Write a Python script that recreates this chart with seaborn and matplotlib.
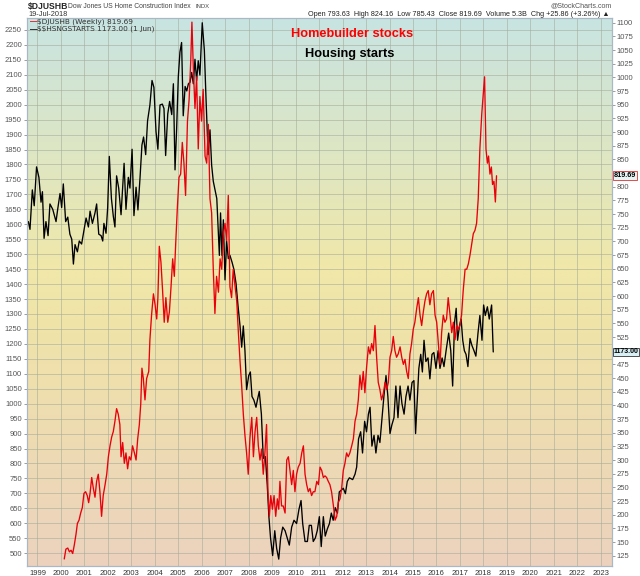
import numpy as np
import pandas as pd
import seaborn as sns
import matplotlib.pyplot as plt

# Housing starts ($$HSNGSTARTS), left axis
starts_year = [1998.61, 1998.68, 1998.78, 1998.86, 1998.96, 1999.06, 1999.15, 1999.21, 1999.28, 1999.36,
               1999.45, 1999.53, 1999.65, 1999.79, 1999.86, 1999.96, 2000.03, 2000.10, 2000.20, 2000.29,
               2000.38, 2000.46, 2000.53, 2000.60, 2000.70, 2000.78, 2000.88, 2000.98, 2001.07, 2001.17,
               2001.24, 2001.34, 2001.45, 2001.52, 2001.61, 2001.71, 2001.78, 2001.83, 2001.92, 2001.99,
               2002.06, 2002.15, 2002.23, 2002.30, 2002.37, 2002.46, 2002.56, 2002.69, 2002.77, 2002.87,
               2002.94, 2003.03, 2003.11, 2003.20, 2003.28, 2003.37, 2003.45, 2003.52, 2003.61, 2003.69,
               2003.79, 2003.88, 2003.96, 2004.05, 2004.13, 2004.22, 2004.32, 2004.39, 2004.46, 2004.55,
               2004.63, 2004.72, 2004.79, 2004.86, 2004.93, 2005.00, 2005.07, 2005.14, 2005.21, 2005.29,
               2005.36, 2005.43, 2005.50, 2005.57, 2005.64, 2005.71, 2005.78, 2005.85, 2005.92, 2006.02,
               2006.11, 2006.18, 2006.27, 2006.35, 2006.42, 2006.49, 2006.64, 2006.75, 2006.80, 2006.86,
               2006.92, 2006.99, 2007.06, 2007.13, 2007.20, 2007.29, 2007.37, 2007.46, 2007.54, 2007.63,
               2007.70, 2007.77, 2007.84, 2007.91, 2008.00, 2008.07, 2008.14, 2008.22, 2008.31, 2008.37,
               2008.45, 2008.54, 2008.62, 2008.71, 2008.79, 2008.86, 2008.93, 2009.02, 2009.11, 2009.19,
               2009.28, 2009.36, 2009.45, 2009.55, 2009.64, 2009.73, 2009.83, 2009.93, 2010.04, 2010.14,
               2010.23, 2010.30, 2010.40, 2010.50, 2010.58, 2010.67, 2010.75, 2010.84, 2010.92, 2011.01,
               2011.09, 2011.18, 2011.26, 2011.35, 2011.44, 2011.52, 2011.60, 2011.69, 2011.78, 2011.86,
               2011.95, 2012.03, 2012.12, 2012.20, 2012.29, 2012.43, 2012.53, 2012.60, 2012.68, 2012.77,
               2012.85, 2012.94, 2013.02, 2013.10, 2013.17, 2013.25, 2013.34, 2013.42, 2013.51, 2013.59,
               2013.68, 2013.76, 2013.85, 2013.93, 2014.02, 2014.10, 2014.19, 2014.27, 2014.36, 2014.45,
               2014.53, 2014.62, 2014.70, 2014.79, 2014.87, 2014.96, 2015.04, 2015.11, 2015.18, 2015.25,
               2015.33, 2015.40, 2015.47, 2015.55, 2015.64, 2015.72, 2015.81, 2015.89, 2015.98, 2016.07,
               2016.15, 2016.24, 2016.32, 2016.41, 2016.52, 2016.61, 2016.69, 2016.77, 2016.84, 2016.90,
               2016.98, 2017.05, 2017.12, 2017.19, 2017.26, 2017.34, 2017.43, 2017.51, 2017.60, 2017.68,
               2017.77, 2017.85, 2017.94, 2018.01, 2018.08, 2018.17, 2018.25, 2018.35, 2018.42]
starts_value = [1609, 1583, 1715, 1662, 1792, 1757, 1674, 1709, 1553, 1609,
                1562, 1668, 1650, 1609, 1650, 1703, 1656, 1735, 1609, 1624,
                1567, 1550, 1467, 1532, 1508, 1544, 1534, 1579, 1621, 1591,
                1644, 1603, 1638, 1668, 1567, 1562, 1544, 1603, 1570, 1656,
                1827, 1686, 1627, 1591, 1762, 1721, 1632, 1804, 1650, 1757,
                1721, 1851, 1629, 1724, 1648, 1757, 1865, 1892, 1833, 1946,
                1999, 2081, 2058, 1910, 1851, 1999, 2002, 1987, 1830, 1969,
                2011, 1967, 2070, 1782, 1922, 2093, 2176, 2208, 1963, 2061,
                2046, 2070, 2075, 2108, 2070, 2152, 2081, 2147, 2099, 2274,
                2182, 2022, 1833, 1916, 1798, 1744, 1686, 1496, 1638, 1496,
                1615, 1414, 1544, 1485, 1496, 1473, 1449, 1402, 1331, 1260,
                1189, 1260, 1177, 1047, 1094, 1106, 1024, 1012, 988, 1012,
                1041, 965, 817, 823, 728, 622, 551, 492, 575, 516,
                480, 551, 587, 575, 551, 527, 587, 610, 599, 646,
                676, 599, 539, 539, 593, 593, 539, 551, 575, 622,
                522, 622, 557, 581, 599, 634, 610, 652, 634, 705,
                711, 717, 699, 740, 752, 746, 764, 788, 882, 906,
                835, 941, 906, 965, 988, 858, 894, 835, 894, 870,
                953, 1024, 1094, 1024, 900, 929, 953, 1059, 953, 1059,
                1000, 965, 1024, 1059, 1012, 1071, 1077, 900, 1012, 1118,
                1165, 1106, 1212, 1141, 1153, 1083, 1165, 1171, 1118, 1177,
                1118, 1153, 1124, 1177, 1236, 1177, 1059, 1271, 1319, 1212,
                1260, 1283, 1212, 1177, 1165, 1124, 1218, 1195, 1177, 1159,
                1236, 1295, 1212, 1330, 1295, 1324, 1283, 1330, 1173]

# Dow Jones US Home Construction Index ($DJUSHB), right axis
djushb_year = [2000.14, 2000.21, 2000.29, 2000.36, 2000.43, 2000.50, 2000.57, 2000.64, 2000.70, 2000.77,
               2000.84, 2000.91, 2000.98, 2001.05, 2001.12, 2001.18, 2001.24, 2001.31, 2001.38, 2001.45,
               2001.52, 2001.59, 2001.66, 2001.73, 2001.80, 2001.88, 2001.95, 2002.02, 2002.09, 2002.16,
               2002.23, 2002.30, 2002.37, 2002.44, 2002.51, 2002.56, 2002.63, 2002.70, 2002.77, 2002.84,
               2002.91, 2002.98, 2003.05, 2003.13, 2003.20, 2003.27, 2003.34, 2003.40, 2003.45, 2003.51,
               2003.58, 2003.65, 2003.74, 2003.79, 2003.86, 2003.94, 2004.01, 2004.08, 2004.13, 2004.19,
               2004.26, 2004.33, 2004.40, 2004.47, 2004.55, 2004.62, 2004.69, 2004.76, 2004.83, 2004.89,
               2004.96, 2005.03, 2005.10, 2005.17, 2005.24, 2005.31, 2005.39, 2005.46, 2005.53, 2005.58,
               2005.64, 2005.71, 2005.78, 2005.85, 2005.92, 2005.99, 2006.06, 2006.14, 2006.21, 2006.28,
               2006.35, 2006.42, 2006.49, 2006.56, 2006.63, 2006.71, 2006.78, 2006.85, 2006.92, 2006.99,
               2007.06, 2007.13, 2007.20, 2007.27, 2007.34, 2007.42, 2007.49, 2007.56, 2007.63, 2007.70,
               2007.77, 2007.84, 2007.91, 2007.98, 2008.05, 2008.13, 2008.20, 2008.27, 2008.34, 2008.41,
               2008.48, 2008.55, 2008.62, 2008.69, 2008.76, 2008.82, 2008.88, 2008.94, 2009.01, 2009.08,
               2009.15, 2009.22, 2009.28, 2009.33, 2009.40, 2009.47, 2009.55, 2009.62, 2009.69, 2009.76,
               2009.83, 2009.90, 2009.97, 2010.04, 2010.11, 2010.19, 2010.26, 2010.33, 2010.40, 2010.47,
               2010.54, 2010.61, 2010.68, 2010.75, 2010.82, 2010.90, 2010.97, 2011.04, 2011.11, 2011.18,
               2011.25, 2011.32, 2011.39, 2011.46, 2011.53, 2011.61, 2011.68, 2011.75, 2011.82, 2011.89,
               2011.96, 2012.03, 2012.10, 2012.17, 2012.24, 2012.31, 2012.39, 2012.46, 2012.53, 2012.60,
               2012.67, 2012.74, 2012.81, 2012.88, 2012.95, 2013.02, 2013.10, 2013.17, 2013.24, 2013.31,
               2013.38, 2013.45, 2013.52, 2013.59, 2013.66, 2013.74, 2013.81, 2013.88, 2013.95, 2014.02,
               2014.09, 2014.16, 2014.23, 2014.30, 2014.37, 2014.45, 2014.52, 2014.59, 2014.66, 2014.73,
               2014.80, 2014.87, 2014.94, 2015.01, 2015.08, 2015.16, 2015.23, 2015.30, 2015.37, 2015.44,
               2015.51, 2015.58, 2015.65, 2015.72, 2015.79, 2015.87, 2015.94, 2016.01, 2016.08, 2016.15,
               2016.22, 2016.29, 2016.36, 2016.43, 2016.50, 2016.58, 2016.65, 2016.72, 2016.79, 2016.86,
               2016.93, 2017.00, 2017.07, 2017.14, 2017.22, 2017.29, 2017.36, 2017.43, 2017.50, 2017.57,
               2017.64, 2017.71, 2017.78, 2017.85, 2017.93, 2018.00, 2018.05, 2018.11, 2018.17, 2018.22,
               2018.28, 2018.34, 2018.39, 2018.45, 2018.51, 2018.56]
djushb_value = [119, 137, 139, 132, 135, 129, 145, 164, 184, 190,
                203, 213, 239, 242, 235, 222, 239, 268, 248, 232,
                261, 274, 242, 197, 235, 255, 274, 306, 326, 342,
                352, 371, 394, 384, 365, 306, 332, 294, 313, 284,
                306, 300, 326, 313, 300, 339, 365, 403, 468, 449,
                410, 449, 462, 520, 565, 604, 584, 558, 597, 691,
                662, 610, 552, 597, 552, 571, 617, 668, 636, 697,
                762, 817, 823, 881, 843, 784, 920, 959, 1030, 1101,
                1017, 943, 1001, 869, 965, 920, 978, 856, 843, 914,
                778, 752, 649, 568, 636, 607, 668, 649, 714, 733,
                701, 784, 617, 597, 649, 617, 591, 533, 481, 436,
                384, 345, 313, 274, 339, 378, 306, 352, 378, 326,
                300, 320, 274, 313, 365, 242, 197, 235, 210, 235,
                197, 229, 210, 261, 216, 216, 203, 300, 306, 281,
                255, 281, 242, 274, 287, 294, 313, 326, 274, 255,
                242, 248, 235, 242, 242, 261, 255, 287, 281, 268,
                271, 268, 261, 255, 242, 216, 190, 197, 223, 229,
                248, 281, 294, 313, 306, 313, 326, 339, 371, 384,
                410, 455, 429, 462, 423, 468, 507, 494, 513, 500,
                546, 488, 442, 429, 410, 423, 442, 429, 442, 488,
                500, 526, 500, 488, 494, 507, 488, 475, 484, 462,
                449, 494, 513, 539, 552, 578, 597, 565, 546, 571,
                591, 604, 610, 584, 604, 610, 565, 552, 513, 475,
                533, 565, 552, 558, 597, 565, 533, 552, 520, 546,
                539, 546, 565, 610, 649, 649, 659, 675, 694, 714,
                720, 733, 778, 869, 933, 972, 1001, 869, 843, 856,
                823, 836, 804, 810, 772, 820]

years = list(range(1999, 2024))
left_ticks = list(range(500, 2251, 50))
right_ticks = list(range(125, 1101, 25))

sns.set_style("white")
plt.rcParams['font.family'] = ['Liberation Sans', 'DejaVu Sans']
plt.rcParams['text.parse_math'] = False

W, H = 640, 576
fig = plt.figure(figsize=(W / 100, H / 100), dpi=100)
fig.patch.set_facecolor("white")

L, R, T, B = 26.7, 612, 18.3, 565.7
ax = fig.add_axes([L / W, 1 - B / H, (R - L) / W, (B - T) / H])

xmin, xmax = 1998.54, 2023.48
ymin, ymax = 458, 2289
ax.set_xlim(xmin, xmax)
ax.set_ylim(ymin, ymax)

# background gradient teal -> yellow -> peach
stops = np.array([[0.0, 200, 228, 226],
                  [0.45, 240, 232, 170],
                  [0.55, 240, 228, 168],
                  [1.0, 236, 210, 190]])
t = np.linspace(0, 1, 256)
grad = np.stack([np.interp(t, stops[:, 0], stops[:, i]) for i in (1, 2, 3)], axis=-1) / 255
ax.imshow(grad[:, None, :], aspect="auto", extent=(xmin, xmax, ymin, ymax),
          origin="upper", zorder=0, interpolation="bilinear")

ax.set_xticks(years)
ax.set_xticklabels([str(y) for y in years])
ax.set_yticks(left_ticks)
ax.grid(True, color="#a3ab98", linewidth=0.6, alpha=0.65)
ax.set_axisbelow(False)
for gl in ax.get_xgridlines() + ax.get_ygridlines():
    gl.set_zorder(1)

starts_df = pd.DataFrame({"year": starts_year, "value": starts_value})
sns.lineplot(data=starts_df, x="year", y="value", ax=ax, color="black",
             linewidth=0.95, sort=False, estimator=None, zorder=3)

ax2 = ax.twinx()
ax2.set_ylim(106.7, 1108)
ax2.set_yticks(right_ticks)
djushb_df = pd.DataFrame({"year": djushb_year, "value": djushb_value})
sns.lineplot(data=djushb_df, x="year", y="value", ax=ax2, color="#e8000b",
             linewidth=0.95, sort=False, estimator=None, zorder=3)

for a in (ax, ax2):
    a.set_xlabel("")
    a.set_ylabel("")
    for s in a.spines.values():
        s.set_color("#a9b8c4")
        s.set_linewidth(0.8)
    a.tick_params(axis="both", labelsize=5.5, labelcolor="#555555", length=2,
                  width=0.5, color="#777777", pad=1.5)
ax.tick_params(axis="x", labelcolor="#333333", pad=1)

# right-axis value tags (drawn on top of the tick labels, as in the source chart)
ax2.annotate("819.69", xy=(1.0, 820), xycoords=ax2.get_yaxis_transform(),
             xytext=(1, 0), textcoords="offset points", va="center", ha="left",
             fontsize=5.2, fontweight="bold", color="black", zorder=10,
             annotation_clip=False,
             bbox=dict(boxstyle="square,pad=0.12", fc="#e8f4f4", ec="#e03030", lw=0.6))
ax2.annotate("1173.00", xy=(1.0, 1173), xycoords=ax.get_yaxis_transform(),
             xytext=(1, 0), textcoords="offset points", va="center", ha="left",
             fontsize=5.0, fontweight="bold", color="black", zorder=10,
             annotation_clip=False,
             bbox=dict(boxstyle="square,pad=0.12", fc="#d8f0f4", ec="#333333", lw=0.6))

# legend-like labels inside the plot
ax.text(0.0056, 0.9932, "—", transform=ax.transAxes, color="#e8000b", fontsize=5.5,
        va="center", fontweight="bold")
ax.text(0.0176, 0.9932, "$DJUSHB (Weekly) 819.69", transform=ax.transAxes,
        color="#333333", fontsize=5.3, va="center", family="DejaVu Sans")
ax.text(0.0056, 0.980, "—", transform=ax.transAxes, color="black", fontsize=5.5,
        va="center", fontweight="bold")
ax.text(0.0176, 0.980, "$$HSNGSTARTS 1173.00 (1 Jun)", transform=ax.transAxes,
        color="#333333", fontsize=5.3, va="center", family="DejaVu Sans")

ax.text(352 / W, 1 - 34 / H, "Homebuilder stocks", transform=fig.transFigure,
        color="#ff0000", fontsize=9.2, fontweight="bold", ha="center", va="center")
ax.text(350 / W, 1 - 54 / H, "Housing starts", transform=fig.transFigure,
        color="black", fontsize=9.2, fontweight="bold", ha="center", va="center")

# header
fig.text(28 / W, 1 - 6.5 / H, "$DJUSHB", fontsize=6.2, fontweight="bold", va="center")
fig.text(68 / W, 1 - 6.5 / H, "Dow Jones US Home Construction Index", fontsize=4.9,
         color="#444444", va="center")
fig.text(196 / W, 1 - 6.5 / H, "INDX", fontsize=4.2, color="#444444", va="center")
fig.text(28 / W, 1 - 14.5 / H, "19-Jul-2018", fontsize=5.3, color="#333333", va="center")
fig.text(612 / W, 1 - 6 / H, "@StockCharts.com", fontsize=5.1, color="#555555",
         va="center", ha="right")
fig.text(610 / W, 1 - 14.5 / H,
         "Open 793.63  High 824.16  Low 785.43  Close 819.69  Volume 5.3B  Chg +25.86 (+3.26%) ▲",
         fontsize=5.2, color="#222222", va="center", ha="right")

fig.savefig("out.png", dpi=100)
